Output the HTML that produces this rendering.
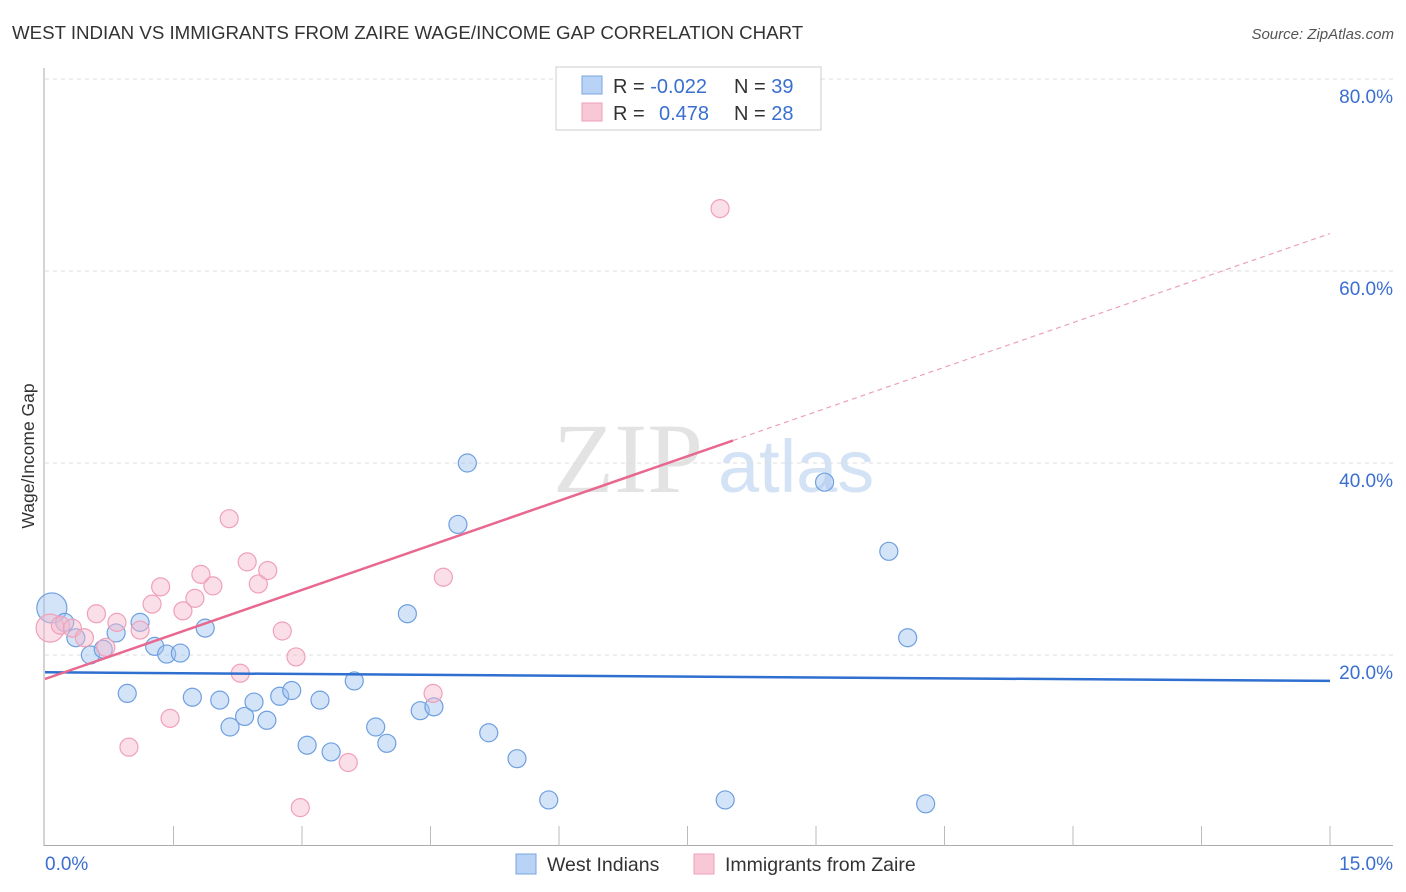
<!DOCTYPE html>
<html><head><meta charset="utf-8"><style>
body{margin:0;background:#fff;font-family:"Liberation Sans",sans-serif}
svg{display:block}
</style></head><body>
<svg id="c" width="1406" height="892" xmlns="http://www.w3.org/2000/svg">
<text x="12" y="39" font-size="18.7" fill="#333">WEST INDIAN VS IMMIGRANTS FROM ZAIRE WAGE/INCOME GAP CORRELATION CHART</text>
<text x="1394" y="39" font-size="15" fill="#555" font-style="italic" text-anchor="end">Source: ZipAtlas.com</text>
<g><text x="553" y="492" font-size="100" fill="#ddd" font-family="Liberation Serif,serif" opacity="0.8">ZIP</text><text x="718" y="492" font-size="74" fill="#c9dcf2" opacity="0.8">atlas</text></g>
<text transform="translate(34,456) rotate(-90)" font-size="17.5" fill="#333" text-anchor="middle">Wage/Income Gap</text>
<g id="grid"></g><g id="pts"></g><g id="trend"></g>
<g>
<rect x="556" y="67" width="265" height="63" fill="#fff" stroke="#ccc"/>
<rect x="582" y="76" width="20" height="18" fill="#b8d3f5" stroke="#7aa6e0"/>
<rect x="582" y="103" width="20" height="18" fill="#f9c8d6" stroke="#f0a0b8"/>
<text x="613" y="93" font-size="20" fill="#333">R = <tspan fill="#3a6fd0">-0.022</tspan><tspan x="734">N = </tspan><tspan fill="#3a6fd0">39</tspan></text>
<text x="613" y="120" font-size="20" fill="#333">R = <tspan x="659" fill="#3a6fd0">0.478</tspan><tspan x="734">N = </tspan><tspan fill="#3a6fd0">28</tspan></text>
</g>
<g>
<rect x="516" y="854" width="20" height="20" fill="#b8d3f5" stroke="#7aa6e0"/>
<text x="547" y="871" font-size="19.5" fill="#333">West Indians</text>
<rect x="694" y="854" width="20" height="20" fill="#f9c8d6" stroke="#f0a0b8"/>
<text x="725" y="871" font-size="19.5" fill="#333">Immigrants from Zaire</text>
</g>
</svg>
<script>
const blueX=[0.08,0.23,0.36,0.53,0.68,0.83,0.96,1.11,1.28,1.42,1.58,1.72,1.87,2.04,2.16,2.33,2.44,2.59,2.74,2.88,3.06,3.21,3.34,3.61,3.86,3.99,4.23,4.38,4.54,4.82,4.93,5.18,5.51,5.88,7.94,9.10,9.85,10.07,10.28];
const blueY=[24.9,23.4,21.8,20.0,20.6,22.3,16.0,23.4,20.9,20.1,20.2,15.6,22.8,15.3,12.5,13.6,15.1,13.2,15.7,16.3,10.6,15.3,9.9,17.3,12.5,10.8,24.3,14.2,14.6,33.6,40.0,11.9,9.2,4.9,4.9,38.0,30.8,21.8,4.5];
const pinkX=[0.06,0.18,0.32,0.46,0.60,0.71,0.84,0.98,1.11,1.25,1.35,1.46,1.61,1.75,1.82,1.96,2.15,2.28,2.36,2.49,2.60,2.77,2.93,2.98,3.54,4.53,4.65,7.88];
const pinkY=[22.8,23.1,22.8,21.8,24.3,20.8,23.4,10.4,22.6,25.3,27.1,13.4,24.6,25.9,28.4,27.2,34.2,18.1,29.7,27.4,28.8,22.5,19.8,4.1,8.8,16.0,28.1,66.5];
const blueTrend=[18.2,17.3];
const pinkTrend=[17.5,63.9];
const pinkSolidEnd=8.03;
const yTicks=[20,40,60,80];
const xTickCount=10;
const NS="http://www.w3.org/2000/svg";
const sx=v=>45+v/15*1285, sy=v=>847-v*9.6;
function mk(p,t,a){const e=document.createElementNS(NS,t);for(const k in a)e.setAttribute(k,a[k]);p.appendChild(e);return e;}
const g=document.getElementById('grid');
yTicks.forEach(t=>{const l=mk(g,'line',{x1:45,x2:1393,y1:sy(t),y2:sy(t),stroke:'#ddd','stroke-dasharray':'4,4'});


const tx=mk(g,'text',{x:1393,y:sy(t)+24,'font-size':19,fill:'#3a6fd0','text-anchor':'end'});tx.textContent=t.toFixed(1)+'%';

});
mk(g,'line',{x1:44,x2:44,y1:68,y2:846,stroke:'#aaa'});
mk(g,'line',{x1:44,x2:1393,y1:845.5,y2:845.5,stroke:'#aaa'});
for(let i=1;i<=xTickCount;i++){const x=sx(i*1.5);mk(g,'line',{x1:x,x2:x,y1:826,y2:846,stroke:'#bbb'});}
const l0=mk(g,'text',{x:45,y:870,'font-size':19,fill:'#3a6fd0'});l0.textContent='0.0%';


const l1=mk(g,'text',{x:1393,y:870,'font-size':19,fill:'#3a6fd0','text-anchor':'end'});l1.textContent='15.0%';


const P=document.getElementById('pts');
blueX.forEach((x,i)=>{const c=mk(P,'circle',{cx:sx(x),cy:sy(blueY[i]),r:i==0?15:9,fill:'rgba(160,196,240,0.45)',stroke:'#6f9fe0','stroke-width':1.2});

});
pinkX.forEach((x,i)=>{const c=mk(P,'circle',{cx:sx(x),cy:sy(pinkY[i]),r:i==0?14:9,fill:'rgba(247,185,205,0.45)',stroke:'#f0a0b8','stroke-width':1.2});

});
const T=document.getElementById('trend');
const bl=mk(T,'line',{x1:sx(0),y1:sy(blueTrend[0]),x2:sx(15),y2:sy(blueTrend[1]),stroke:'#2f6fd0','stroke-width':2.5});


const py=x=>pinkTrend[0]+(pinkTrend[1]-pinkTrend[0])*x/15;
const pl=mk(T,'line',{x1:sx(0),y1:sy(py(0)),x2:sx(pinkSolidEnd),y2:sy(py(pinkSolidEnd)),stroke:'#e8688f','stroke-width':2.5});


const pd=mk(T,'line',{x1:sx(pinkSolidEnd),y1:sy(py(pinkSolidEnd)),x2:sx(15),y2:sy(py(15)),stroke:'#eda0b8','stroke-width':1.2,'stroke-dasharray':'5,4'});


</script>
</body></html>
